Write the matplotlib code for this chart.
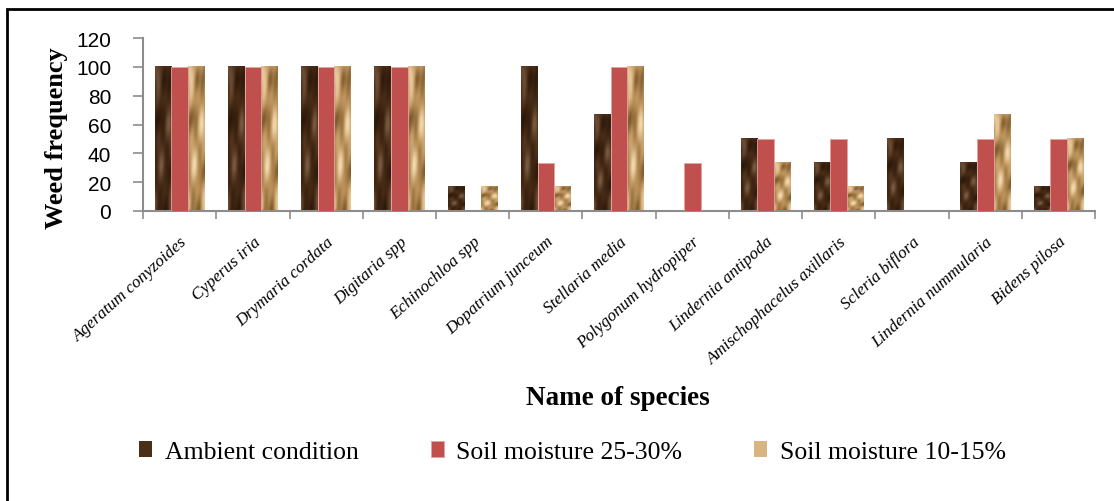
import matplotlib
matplotlib.use('Agg')
import matplotlib.pyplot as plt
import numpy as np
from matplotlib.colors import LinearSegmentedColormap
from matplotlib.patches import Rectangle

species = ['Ageratum conyzoides', 'Cyperus iria', 'Drymaria cordata', 'Digitaria spp',
           'Echinochloa spp', 'Dopatrium junceum', 'Stellaria media',
           'Polygonum hydropiper', 'Lindernia antipoda', 'Amischophacelus axillaris',
           'Scleria biflora', 'Lindernia nummularia', 'Bidens pilosa']
ambient = [100, 100, 100, 100, 16.7, 100, 66.7, 0, 50, 33.3, 50, 33.3, 16.7]
moist_25_30 = [100, 100, 100, 100, 0, 33.3, 100, 33.3, 50, 50, 0, 50, 50]
moist_10_15 = [100, 100, 100, 100, 16.7, 16.7, 100, 0, 33.3, 16.7, 0, 66.7, 50]
series_names = ['Ambient condition', 'Soil moisture 25-30%', 'Soil moisture 10-15%']
yticks = [0, 20, 40, 60, 80, 100, 120]

serif = 'Liberation Serif'
sans = 'Liberation Sans'

# paper-like textures for the brown and tan bars
gy, gx = np.mgrid[0:1:160j, 0:1:40j]
paper = (np.sin(5 * gx + 9 * gy) + 0.8 * np.sin(-6 * gx + 13 * gy + 1.3)
         + 0.5 * np.sin(11 * gx - 4 * gy + 0.4) + 0.35 * np.sin(14 * gx + 19 * gy + 2.1)
         + 0.3 * np.sin(3 * gx + 27 * gy + 0.7))
paper = (paper - paper.min()) / (paper.max() - paper.min())
dark_cmap = LinearSegmentedColormap.from_list('dark', ['#2c180a', '#442914', '#5e4029', '#7a5c44'])
tan_cmap = LinearSegmentedColormap.from_list('tan', ['#7d5a2c', '#b88f58', '#dbb886', '#f2dbb2'])

fig = plt.figure(figsize=(11.14, 5.02), dpi=100)
ax = fig.add_axes([0.1284, 0.5777, 0.8546, 0.3446])

x = np.arange(len(species))
w = 0.227
b1 = ax.bar(x - w, ambient, w, color='#4b2e18', label=series_names[0], zorder=2)
b2 = ax.bar(x, moist_25_30, w, color='#c0504d', edgecolor='#e3a3a1', linewidth=0.6,
            label=series_names[1], zorder=3)
b3 = ax.bar(x + w, moist_10_15, w, color='#d9b483', label=series_names[2], zorder=2)

for bars, cmap in [(b1, dark_cmap), (b3, tan_cmap)]:
    for r in bars:
        if r.get_height() <= 0:
            continue
        x0, wd, h = r.get_x(), r.get_width(), r.get_height()
        ax.imshow(paper, cmap=cmap, extent=(x0, x0 + wd, 0, h), aspect='auto',
                  interpolation='bilinear', zorder=2.5)

ax.set_xlim(-0.5, len(species) - 0.5)
ax.set_ylim(0, 120)
ax.set_yticks(yticks)
ax.set_yticklabels([str(t) for t in yticks], fontsize=15, family=sans)
ax.set_xticks(x)
ax.set_xticklabels(species, rotation=42, ha='right', rotation_mode='anchor',
                   fontsize=12.3, family=serif, style='italic')
ax.set_xticks(np.arange(len(species) + 1) - 0.5, minor=True)
ax.tick_params(axis='x', which='major', length=0, pad=16)
ax.tick_params(axis='x', which='minor', length=6, color='#8c8c8c', width=1.2)
ax.tick_params(axis='y', length=7, color='#8c8c8c', width=1.2, pad=16)

for side in ['top', 'right']:
    ax.spines[side].set_visible(False)
for side in ['left', 'bottom']:
    ax.spines[side].set_color('#8c8c8c')
    ax.spines[side].set_linewidth(1.5)

fig.text(0.051, 0.724, 'Weed frequency', rotation=90, ha='center', va='center',
         fontsize=19, fontweight='bold', family=serif)
fig.text(0.555, 0.207, 'Name of species', ha='center', va='center',
         fontsize=19.5, fontweight='bold', family=serif)

leg = fig.legend(handles=[b1, b2, b3], labels=series_names, loc='center',
                 bbox_to_anchor=(0.514, 0.0976), ncol=3, frameon=False,
                 prop={'family': serif, 'size': 18.5}, handlelength=0.5, handleheight=0.6,
                 handletextpad=0.5, columnspacing=2.8)

# outer frame
fig.patches.append(Rectangle((7 / 1114, -0.05), 1.2, 1 - 9.5 / 502 + 0.05,
                             transform=fig.transFigure, fill=False,
                             edgecolor='black', linewidth=2))

fig.savefig('out.png', dpi=100)
